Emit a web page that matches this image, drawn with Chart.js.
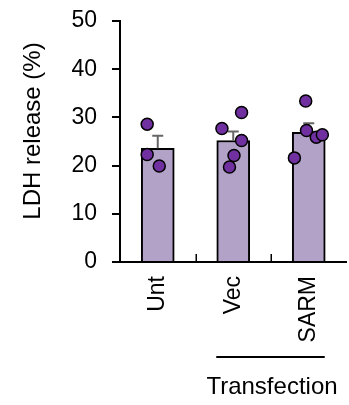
<!DOCTYPE html>
<html>
<head>
<meta charset="utf-8">
<script src="https://cdn.jsdelivr.net/npm/chart.js@4"></script>
<style>
  html, body { margin: 0; padding: 0; background: #fff; overflow: hidden; }
  #wrap { width: 349px; height: 405px; overflow: hidden; }
</style>
</head>
<body>
<div id="wrap"><canvas id="ldhChart" width="354" height="405"></canvas></div>
<script>
// groups along the x axis
const categories = ['Unt', 'Vec', 'SARM'];
// bar heights, mean LDH release (%)
const means = [23.6, 25.2, 26.9];
// upper error bar length (SEM)
const sems = [2.6, 1.9, 1.9];
// individual replicates per group
const pointsUnt = [28.6, 22.3, 19.9];
const pointsVec = [27.7, 31.0, 25.2, 22.1, 19.7];
const pointsSarm = [33.4, 27.3, 21.6, 25.9, 26.4];
// horizontal jitter of each replicate, in category units
const jitterUnt = [-0.14, -0.14, 0.02];
const jitterVec = [-0.15, 0.11, 0.11, 0.01, -0.05];
const jitterSarm = [-0.04, -0.03, -0.19, 0.10, 0.18];
const yTicks = [0, 10, 20, 30, 40, 50];

const FONT = "'Liberation Sans', Arial, sans-serif";

const replicates = [pointsUnt, pointsVec, pointsSarm];
const jitters = [jitterUnt, jitterVec, jitterSarm];
const scatterData = [];
replicates.forEach((vals, i) => {
    vals.forEach((v, j) => scatterData.push({ x: i + jitters[i][j], y: v }));
});

const extras = {
    id: 'extras',
    afterDatasetDraw(chart, args) {
        if (args.index !== 0) return;
        // error bars, drawn before the dots
        const ctx = chart.ctx, x = chart.scales.x, y = chart.scales.y;
        ctx.save();
        ctx.strokeStyle = '#666';
        ctx.lineWidth = 2;
        means.forEach((m, i) => {
            const px = x.getPixelForValue(i);
            const top = y.getPixelForValue(m + sems[i]);
            ctx.beginPath();
            ctx.moveTo(px, y.getPixelForValue(m));
            ctx.lineTo(px, top);
            ctx.moveTo(px - 5.5, top);
            ctx.lineTo(px + 5.5, top);
            ctx.stroke();
        });
        ctx.restore();
    },
    afterDraw(chart) {
        const ctx = chart.ctx, x = chart.scales.x, area = chart.chartArea;
        ctx.save();
        // small inward ticks between groups
        ctx.strokeStyle = '#000';
        ctx.lineWidth = 1.5;
        for (let i = 0; i < categories.length - 1; i++) {
            const px = Math.round(x.getPixelForValue(i + 0.5)) + 0.25;
            ctx.beginPath();
            ctx.moveTo(px, area.bottom);
            ctx.lineTo(px, area.bottom - 8);
            ctx.stroke();
        }
        // y axis title
        ctx.fillStyle = '#000';
        ctx.font = '24px ' + FONT;
        ctx.textAlign = 'center';
        ctx.textBaseline = 'middle';
        ctx.translate(33, 131);
        ctx.rotate(-Math.PI / 2);
        ctx.fillText('LDH release (%)', 0, 0);
        ctx.setTransform(1, 0, 0, 1, 0, 0);
        // bracket under the transfected groups
        ctx.lineWidth = 2;
        ctx.beginPath();
        ctx.moveTo(x.getPixelForValue(1) - 17, 357);
        ctx.lineTo(x.getPixelForValue(2) + 16, 357);
        ctx.stroke();
        ctx.font = '24px ' + FONT;
        ctx.textBaseline = 'alphabetic';
        ctx.fillText('Transfection', x.getPixelForValue(1.5) + 1, 394);
        ctx.restore();
    }
};

new Chart(document.getElementById('ldhChart'), {
    type: 'bar',
    data: {
        datasets: [
            {
                type: 'bar',
                data: categories.map((c, i) => ({ x: i, y: means[i] })),
                backgroundColor: '#b3a2c7',
                borderColor: '#000',
                borderWidth: 2,
                barThickness: 33,
                order: 2
            },
            {
                type: 'scatter',
                data: scatterData,
                pointRadius: 6,
                pointHoverRadius: 6,
                backgroundColor: '#7030a0',
                borderColor: '#000',
                borderWidth: 1.5,
                order: 1
            }
        ]
    },
    options: {
        responsive: false,
        animation: false,
        layout: { padding: { top: 21, left: 0, right: 0, bottom: 0 } },
        plugins: {
            legend: { display: false },
            tooltip: { enabled: false }
        },
        scales: {
            x: {
                type: 'linear',
                min: -0.5,
                max: 2.5,
                offset: false,
                bounds: 'data',
                afterBuildTicks: s => { s.ticks = categories.map((c, i) => ({ value: i })); },
                afterFit: s => { s.height = 143; s.paddingLeft = 0; s.paddingRight = 0; },
                grid: { display: false, offset: false },
                border: { display: true, color: '#000', width: 2 },
                ticks: {
                    callback: v => categories[v],
                    color: '#000',
                    font: { family: FONT, size: 23 },
                    minRotation: 90,
                    maxRotation: 90,
                    autoSkip: false,
                    padding: 6
                }
            },
            y: {
                min: 0,
                max: 50,
                afterBuildTicks: s => { s.ticks = yTicks.map(v => ({ value: v })); },
                afterFit: s => { s.width = 120; s.paddingTop = 0; s.paddingBottom = 0; },
                grid: { drawOnChartArea: false, color: '#000', lineWidth: 2, tickLength: 8 },
                border: { color: '#000', width: 2 },
                ticks: {
                    color: '#000',
                    font: { family: FONT, size: 23 },
                    padding: 15
                }
            }
        }
    },
    plugins: [extras]
});
</script>
</body>
</html>
